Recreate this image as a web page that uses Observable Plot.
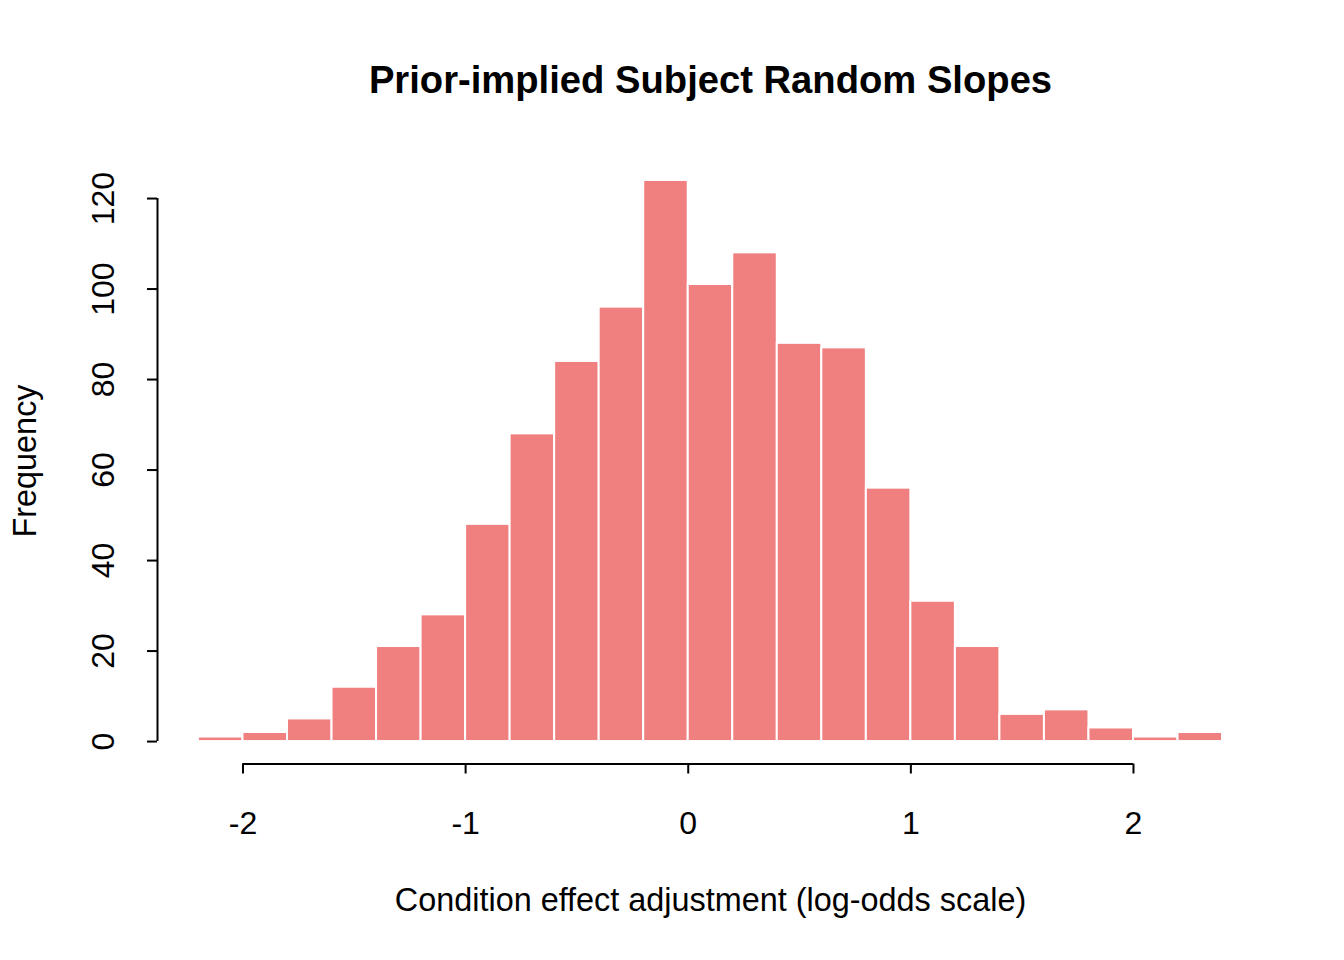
<!DOCTYPE html>
<html>
<head>
<meta charset="utf-8">
<script src="https://cdn.jsdelivr.net/npm/d3@7"></script>
<script src="https://cdn.jsdelivr.net/npm/@observablehq/plot@0.6"></script>
<style>
  html, body { margin: 0; padding: 0; background: #fff; }
  #chart { width: 1344px; height: 960px; }
  svg { font-family: "Liberation Sans", Arial, Helvetica, sans-serif; }
</style>
</head>
<body>
<div id="chart"></div>
<script>
// Histogram bins (left edges, width 0.2) and counts
const binStart = [-2.2, -2.0, -1.8, -1.6, -1.4, -1.2, -1.0, -0.8, -0.6, -0.4, -0.2, 0.0, 0.2, 0.4, 0.6, 0.8, 1.0, 1.2, 1.4, 1.6, 1.8, 2.0, 2.2];
const binWidth = 0.2;
const counts = [1, 2, 5, 12, 21, 28, 48, 68, 84, 96, 124, 101, 108, 88, 87, 56, 31, 21, 6, 7, 3, 1, 2];
const xTicks = [-2, -1, 0, 1, 2];
const yTicks = [0, 20, 40, 60, 80, 100, 120];
const title = "Prior-implied Subject Random Slopes";
const xLabel = "Condition effect adjustment (log-odds scale)";
const yLabel = "Frequency";

const bins = binStart.map((x0, i) => ({x1: x0, x2: +(x0 + binWidth).toFixed(2), y: counts[i]}));

// R-style 4% domain extension
const xMin = binStart[0], xMax = binStart[binStart.length - 1] + binWidth;
const xPad = (xMax - xMin) * 0.04;
const yMaxData = d3.max(counts);
const yPad = yMaxData * 0.04;
const xDomain = [xMin - xPad, xMax + xPad];
const yDomain = [-yPad, yMaxData + yPad];

const FS = 32;

const plot = Plot.plot({
  width: 1344,
  height: 960,
  marginLeft: 157,
  marginRight: 81,
  marginTop: 157.5,
  marginBottom: 196.5,
  style: {fontFamily: '"Liberation Sans", Arial, Helvetica, sans-serif', fontSize: FS + "px", color: "#000", background: "#fff"},
  x: {domain: xDomain},
  y: {domain: yDomain},
  marks: [
    Plot.rectY(bins, {x1: "x1", x2: "x2", y1: 0, y2: "y", fill: "#F08080", stroke: "#ffffff", strokeWidth: 2}),
    // x axis line (R style, from first to last tick)
    Plot.ruleY([yDomain[0]], {x1: xTicks[0], x2: xTicks[xTicks.length - 1], stroke: "#000", strokeWidth: 2}),
    // y axis line
    Plot.ruleX([xDomain[0]], {y1: yTicks[0], y2: yTicks[yTicks.length - 1], stroke: "#000", strokeWidth: 2}),
    Plot.axisX(xTicks, {anchor: "bottom", tickSize: 10, tickPadding: 37, strokeWidth: 2, fontSize: FS, label: null, tickFormat: d => String(d).replace("−", "-")}),
    Plot.axisY(yTicks, {anchor: "left", tickSize: 10, tickPadding: 34, tickRotate: -90, strokeWidth: 2, fontSize: FS, label: null, tickFormat: d => String(d)}),
    Plot.text([title], {frameAnchor: "top", dy: -77, text: d => d, fontSize: 38.2, fontWeight: "bold", lineAnchor: "middle"}),
    Plot.text([xLabel], {frameAnchor: "bottom", dy: 137, text: d => d, fontSize: 32.4, lineAnchor: "middle"}),
    Plot.text([yLabel], {frameAnchor: "left", dx: -132, rotate: -90, text: d => d, fontSize: 32.4, textAnchor: "middle", lineAnchor: "middle"})
  ]
});
document.getElementById("chart").appendChild(plot);
</script>
</body>
</html>
